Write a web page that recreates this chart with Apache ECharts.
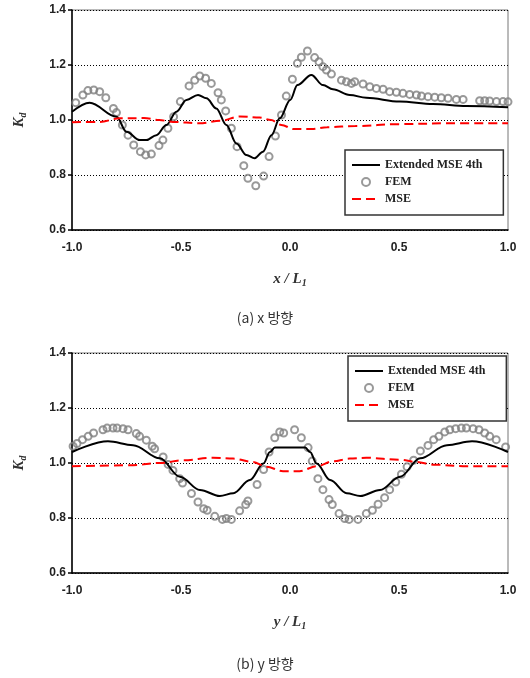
<!DOCTYPE html>
<html><head><meta charset="utf-8">
<script src="https://cdn.jsdelivr.net/npm/echarts@6/dist/echarts.min.js"></script>
<style>html,body{margin:0;padding:0;background:#fff}#c{width:530px;height:678px}</style>
</head><body><div id="c"></div>
<script>
// ---- (a) x direction ----
const aExtX = [-1.0,-0.919,-0.796,-0.75,-0.689,-0.659,-0.613,-0.567,-0.521,-0.475,-0.422,-0.383,-0.338,-0.292,-0.246,-0.2,-0.162,-0.124,-0.085,-0.047,0.001,0.034,0.098,0.151,0.197,0.274,0.35,0.503,0.656,0.809,1.0];
const aExtY = [1.030,1.063,1.012,0.957,0.927,0.927,0.945,0.982,1.030,1.073,1.091,1.079,1.042,0.982,0.915,0.873,0.861,0.885,0.945,1.006,1.073,1.127,1.164,1.127,1.112,1.091,1.081,1.067,1.058,1.051,1.046];
const aFemX = [-0.983,-0.95,-0.927,-0.90,-0.873,-0.845,-0.81,-0.796,-0.769,-0.743,-0.717,-0.686,-0.662,-0.636,-0.601,-0.583,-0.56,-0.534,-0.503,-0.463,-0.437,-0.414,-0.387,-0.361,-0.33,-0.315,-0.295,-0.269,-0.243,-0.212,-0.193,-0.157,-0.121,-0.096,-0.067,-0.039,-0.017,0.011,0.034,0.052,0.080,0.113,0.133,0.151,0.167,0.19,0.236,0.259,0.282,0.297,0.335,0.366,0.396,0.427,0.457,0.488,0.518,0.549,0.58,0.603,0.633,0.664,0.694,0.725,0.763,0.794,0.870,0.893,0.916,0.947,0.977,1.0];
const aFemY = [1.063,1.091,1.107,1.109,1.103,1.081,1.042,1.027,0.982,0.945,0.909,0.885,0.873,0.876,0.907,0.927,0.970,1.012,1.067,1.124,1.145,1.160,1.152,1.133,1.099,1.073,1.033,0.970,0.903,0.834,0.788,0.761,0.796,0.867,0.942,1.018,1.087,1.148,1.206,1.228,1.251,1.227,1.212,1.194,1.182,1.167,1.145,1.139,1.133,1.139,1.131,1.121,1.115,1.112,1.103,1.101,1.097,1.093,1.091,1.087,1.085,1.083,1.081,1.079,1.075,1.075,1.070,1.070,1.069,1.067,1.067,1.066];
const aMseX = [-1.0,-0.873,-0.781,-0.67,-0.6,-0.537,-0.416,-0.32,-0.23,-0.14,-0.087,-0.04,0.018,0.1,0.17,0.3,0.5,0.73,1.0];
const aMseY = [0.992,0.993,1.006,1.007,1.0,0.993,0.988,0.997,1.013,1.009,1.0,0.982,0.967,0.967,0.974,0.978,0.985,0.988,0.988];

// ---- (b) y direction ----
const bExtX = [-1.0,-0.835,-0.72,-0.597,-0.505,-0.413,-0.322,-0.26,-0.184,-0.122,-0.092,-0.07,0.0,0.07,0.092,0.122,0.184,0.26,0.322,0.413,0.505,0.597,0.72,0.835,1.0];
const bExtY = [1.040,1.079,1.065,1.017,0.950,0.902,0.880,0.890,0.938,0.998,1.040,1.056,1.056,1.056,1.040,0.998,0.938,0.890,0.880,0.902,0.950,1.017,1.065,1.079,1.040];
const bFemX = [-0.995,-0.977,-0.952,-0.926,-0.901,-0.858,-0.839,-0.812,-0.793,-0.766,-0.743,-0.705,-0.690,-0.659,-0.632,-0.621,-0.582,-0.559,-0.537,-0.506,-0.493,-0.452,-0.422,-0.396,-0.380,-0.345,-0.310,-0.292,-0.269,-0.231,-0.203,-0.193,-0.151,-0.121,-0.096,-0.070,-0.047,-0.029,0.021,0.052,0.083,0.102,0.128,0.151,0.179,0.194,0.225,0.251,0.271,0.312,0.350,0.378,0.404,0.434,0.457,0.485,0.511,0.537,0.567,0.598,0.633,0.659,0.683,0.710,0.733,0.760,0.786,0.809,0.840,0.867,0.893,0.916,0.946,0.989];
const bFemY = [1.061,1.071,1.085,1.097,1.109,1.121,1.127,1.127,1.127,1.125,1.121,1.107,1.097,1.083,1.061,1.052,1.022,0.995,0.973,0.943,0.927,0.889,0.858,0.834,0.828,0.806,0.795,0.798,0.795,0.826,0.849,0.862,0.922,0.976,1.040,1.092,1.113,1.109,1.121,1.092,1.056,1.007,0.943,0.903,0.867,0.849,0.816,0.798,0.795,0.795,0.816,0.828,0.850,0.874,0.903,0.931,0.959,0.986,1.010,1.044,1.064,1.085,1.097,1.113,1.121,1.125,1.127,1.127,1.125,1.121,1.109,1.097,1.085,1.058];
const bMseX = [-1.0,-0.72,-0.598,-0.49,-0.353,-0.261,-0.17,-0.108,-0.032,0.044,0.121,0.197,0.274,0.35,0.503,0.579,0.656,0.809,1.0];
const bMseY = [0.988,0.992,1.0,1.01,1.019,1.016,1.004,0.986,0.970,0.970,0.988,1.006,1.016,1.019,1.012,1.004,0.994,0.988,0.988];

const yTicks = [0.6, 0.8, 1.0, 1.2, 1.4];
const xTicks = [-1.0, -0.5, 0.0, 0.5, 1.0];
const names = ['Extended MSE 4th', 'FEM', 'MSE'];

const zip = (a, b) => a.map((v, i) => [v, b[i]]);

const chart = echarts.init(document.getElementById('c'), null, {renderer: 'canvas'});

const serif = 'Liberation Serif, Times New Roman, serif';
function xAxisDef(idx, letter) {
  return {
    type: 'value', gridIndex: idx, min: xTicks[0], max: xTicks[xTicks.length - 1], interval: 0.5,
    axisLine: {show: true, onZero: false, lineStyle: {color: '#000', width: 1.5}},
    axisTick: {show: false},
    splitLine: {show: false},
    axisLabel: {color: '#222', fontFamily: 'Liberation Sans, Arial', fontWeight: 'bold', fontSize: 12, margin: 12,
      formatter: v => v.toFixed(1)},
    name: '{i|' + letter + ' / L}{s|1}', nameLocation: 'middle', nameGap: 40,
    nameTextStyle: {rich: {
      i: {fontFamily: serif, fontStyle: 'italic', fontWeight: 'bold', fontSize: 15, color: '#333'},
      s: {fontFamily: serif, fontStyle: 'italic', fontWeight: 'bold', fontSize: 10, color: '#333', padding: [8, 0, 0, 0]}
    }}
  };
}
function yAxisDef(idx) {
  return {
    type: 'value', gridIndex: idx, min: yTicks[0], max: yTicks[yTicks.length - 1], interval: 0.2,
    axisLine: {show: true, onZero: false, lineStyle: {color: '#000', width: 1.5}},
    axisTick: {show: true, length: 4, lineStyle: {color: '#000', width: 1.5}},
    splitLine: {show: true, lineStyle: {color: '#000', type: [1, 2], width: 1}},
    axisLabel: {color: '#222', fontFamily: 'Liberation Sans, Arial', fontWeight: 'bold', fontSize: 12, margin: 6,
      formatter: v => v.toFixed(1)},
    name: '{i|K}{s|d}', nameLocation: 'middle', nameGap: 44, nameRotate: 90,
    nameTextStyle: {rich: {
      i: {fontFamily: serif, fontStyle: 'italic', fontWeight: 'bold', fontSize: 15, color: '#333'},
      s: {fontFamily: serif, fontStyle: 'italic', fontWeight: 'bold', fontSize: 10, color: '#333', padding: [8, 0, 0, 0]}
    }}
  };
}
const hidden = {color: 'rgba(0,0,0,0)', borderColor: 'rgba(0,0,0,0)', borderWidth: 0};
function legendDef(left, top) {
  return {
    left: left, top: top, orient: 'vertical',
    data: [
      {name: names[0], itemStyle: hidden},
      {name: names[1]},
      {name: names[2], itemStyle: hidden}
    ],
    backgroundColor: '#fff', borderColor: '#333', borderWidth: 1.5, borderRadius: 0,
    padding: [8, 21, 9, 6], itemGap: 3, itemWidth: 28, itemHeight: 8,
    textStyle: {fontFamily: serif, fontWeight: 'bold', fontSize: 12, color: '#222', lineHeight: 14}
  };
}
function seriesSet(idx, extX, extY, femX, femY, mseX, mseY) {
  return [
    {name: 'FEM', type: 'scatter', xAxisIndex: idx, yAxisIndex: idx, data: zip(femX, femY),
      symbol: 'circle', symbolSize: 7, z: 2,
      itemStyle: {color: 'rgba(255,255,255,0)', borderColor: '#7f7f7f', borderWidth: 2}},
    {name: 'Extended MSE 4th', type: 'line', xAxisIndex: idx, yAxisIndex: idx, data: zip(extX, extY),
      smooth: 0.35, smoothMonotone: 'x', showSymbol: false, symbol: 'none', z: 3,
      lineStyle: {color: '#000', width: 2}, itemStyle: {color: '#000'}},
    {name: 'MSE', type: 'line', xAxisIndex: idx, yAxisIndex: idx, data: zip(mseX, mseY),
      smooth: 0.35, smoothMonotone: 'x', showSymbol: false, symbol: 'none', z: 4,
      lineStyle: {color: '#ff0000', width: 2, type: [9, 5]}, itemStyle: {color: '#ff0000'}}
  ];
}

chart.setOption({
  animation: false,
  backgroundColor: '#fff',
  grid: [
    {left: 72, right: 22, top: 10, height: 220, show: true, borderColor: '#777', borderWidth: 1, backgroundColor: 'transparent'},
    {left: 72, right: 22, top: 353, height: 220, show: true, borderColor: '#777', borderWidth: 1, backgroundColor: 'transparent'}
  ],
  xAxis: [xAxisDef(0, 'x'), xAxisDef(1, 'y')],
  yAxis: [yAxisDef(0), yAxisDef(1)],
  legend: [legendDef(345, 150), legendDef(348, 356)],
  series: [].concat(
    seriesSet(0, aExtX, aExtY, aFemX, aFemY, aMseX, aMseY),
    seriesSet(1, bExtX, bExtY, bFemX, bFemY, bMseX, bMseY)
  ),
  graphic: [
    {type: 'text', left: 'center', top: 311, style: {text: '(a) x 방향', fontFamily: 'Noto Sans CJK KR', fontSize: 14, fill: '#333'}},
    {type: 'text', left: 'center', top: 657, style: {text: '(b) y 방향', fontFamily: 'Noto Sans CJK KR', fontSize: 14, fill: '#333'}}
  ]
});
</script></body></html>
